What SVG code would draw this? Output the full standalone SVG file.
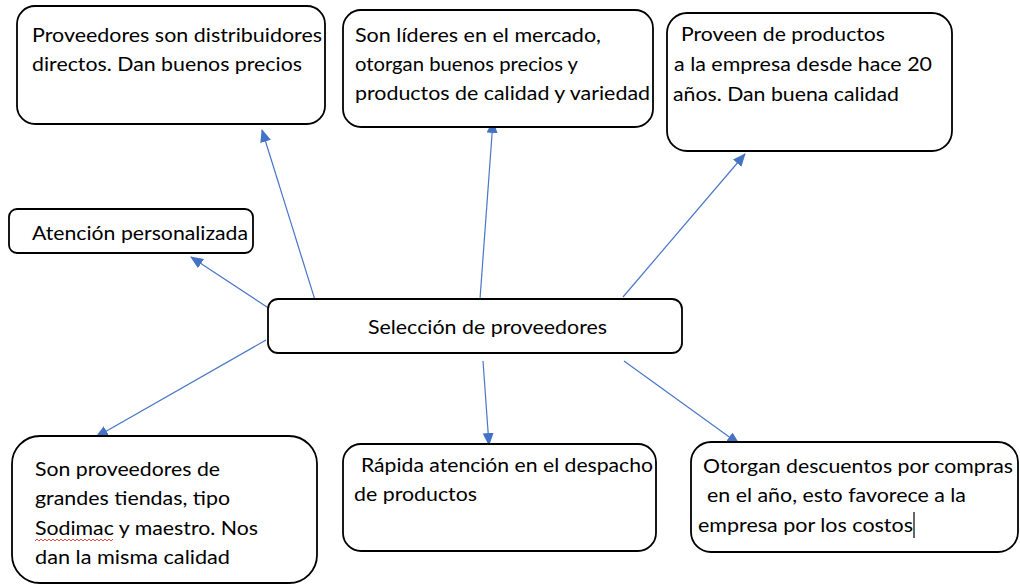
<svg xmlns="http://www.w3.org/2000/svg" width="1020" height="586" viewBox="0 0 1020 586">
<defs>
<style>
.box{fill:#fff;stroke:#000;stroke-width:1.8}
.t{font-family:Lato,"Liberation Sans",sans-serif;font-size:19.5px;fill:#000}
.c{stroke:#4a76c8;stroke-width:1.2;fill:none}
</style>
<marker id="ah" markerWidth="13" markerHeight="11" refX="12" refY="5.5" orient="auto" markerUnits="userSpaceOnUse">
<path d="M0,0 L13,5.5 L0,11 z" fill="#4472c4"/>
</marker>
</defs>
<rect width="1020" height="586" fill="#fff"/>
<g id="connectors">
<line class="c" x1="315" y1="300" x2="262" y2="130" marker-end="url(#ah)"/>
<line class="c" x1="480" y1="299" x2="493" y2="121" marker-end="url(#ah)"/>
<line class="c" x1="623" y1="297" x2="745" y2="154" marker-end="url(#ah)"/>
<line class="c" x1="270" y1="309" x2="191" y2="257" marker-end="url(#ah)"/>
<line class="c" x1="266" y1="340" x2="96" y2="437" marker-end="url(#ah)"/>
<line class="c" x1="483" y1="361" x2="489" y2="445" marker-end="url(#ah)"/>
<line class="c" x1="624" y1="361" x2="739" y2="444" marker-end="url(#ah)"/>
</g>
<g id="n1">
<rect class="box" x="17" y="6" width="308" height="118" rx="18"/>
<text class="t" x="32" y="42" textLength="290" lengthAdjust="spacingAndGlyphs">Proveedores son distribuidores</text>
<text class="t" x="32" y="71" textLength="270" lengthAdjust="spacingAndGlyphs">directos. Dan buenos precios</text>
</g>
<g id="n2">
<rect class="box" x="343" y="10" width="310" height="117" rx="18"/>
<text class="t" x="355" y="42" textLength="246" lengthAdjust="spacingAndGlyphs">Son líderes en el mercado,</text>
<text class="t" x="355" y="71" textLength="223" lengthAdjust="spacingAndGlyphs">otorgan buenos precios y</text>
<text class="t" x="355" y="100" textLength="295" lengthAdjust="spacingAndGlyphs">productos de calidad y variedad</text>
</g>
<g id="n3">
<rect class="box" x="667" y="13" width="285" height="138" rx="20"/>
<text class="t" x="681" y="41" textLength="204" lengthAdjust="spacingAndGlyphs">Proveen de productos</text>
<text class="t" x="674" y="71" textLength="258" lengthAdjust="spacingAndGlyphs">a la empresa desde hace 20</text>
<text class="t" x="673" y="101" textLength="226" lengthAdjust="spacingAndGlyphs">años. Dan buena calidad</text>
</g>
<g id="n4">
<rect class="box" x="9" y="209" width="244" height="44" rx="8"/>
<text class="t" x="32" y="240" textLength="216" lengthAdjust="spacingAndGlyphs">Atención personalizada</text>
</g>
<g id="center">
<rect class="box" x="268" y="299" width="414" height="54" rx="10"/>
<text class="t" x="368" y="334" textLength="239" lengthAdjust="spacingAndGlyphs">Selección de proveedores</text>
</g>
<g id="n6">
<rect class="box" x="12" y="436" width="305" height="147" rx="28"/>
<text class="t" x="35" y="476" textLength="185" lengthAdjust="spacingAndGlyphs">Son proveedores de</text>
<text class="t" x="35" y="505" textLength="195" lengthAdjust="spacingAndGlyphs">grandes tiendas, tipo</text>
<text class="t" x="35" y="535" textLength="223" lengthAdjust="spacingAndGlyphs">Sodimac y maestro. Nos</text>
<text class="t" x="35" y="564" textLength="195" lengthAdjust="spacingAndGlyphs">dan la misma calidad</text>
<path d="M35,541 l2,-2 l2,2 l2,-2 l2,2 l2,-2 l2,2 l2,-2 l2,2 l2,-2 l2,2 l2,-2 l2,2 l2,-2 l2,2 l2,-2 l2,2 l2,-2 l2,2 l2,-2 l2,2 l2,-2 l2,2 l2,-2 l2,2 l2,-2 l2,2 l2,-2 l2,2 l2,-2 l2,2 l2,-2 l2,2 l2,-2 l2,2 l2,-2 l2,2 l2,-2 l2,2 l2,-2" fill="none" stroke="#e03030" stroke-width="0.9"/>
</g>
<g id="n7">
<rect class="box" x="343" y="444" width="313" height="107" rx="18"/>
<text class="t" x="361" y="472" textLength="292" lengthAdjust="spacingAndGlyphs">Rápida atención en el despacho</text>
<text class="t" x="354" y="501" textLength="123" lengthAdjust="spacingAndGlyphs">de productos</text>
</g>
<g id="n8">
<rect class="box" x="691" y="442" width="327" height="110" rx="20"/>
<text class="t" x="703" y="473" textLength="310" lengthAdjust="spacingAndGlyphs">Otorgan descuentos por compras</text>
<text class="t" x="707" y="502" textLength="259" lengthAdjust="spacingAndGlyphs">en el año, esto favorece a la</text>
<text class="t" x="698" y="532" textLength="215" lengthAdjust="spacingAndGlyphs">empresa por los costos</text>
<line x1="914" y1="512" x2="914" y2="538" stroke="#000" stroke-width="1.2"/>
</g>
</svg>
